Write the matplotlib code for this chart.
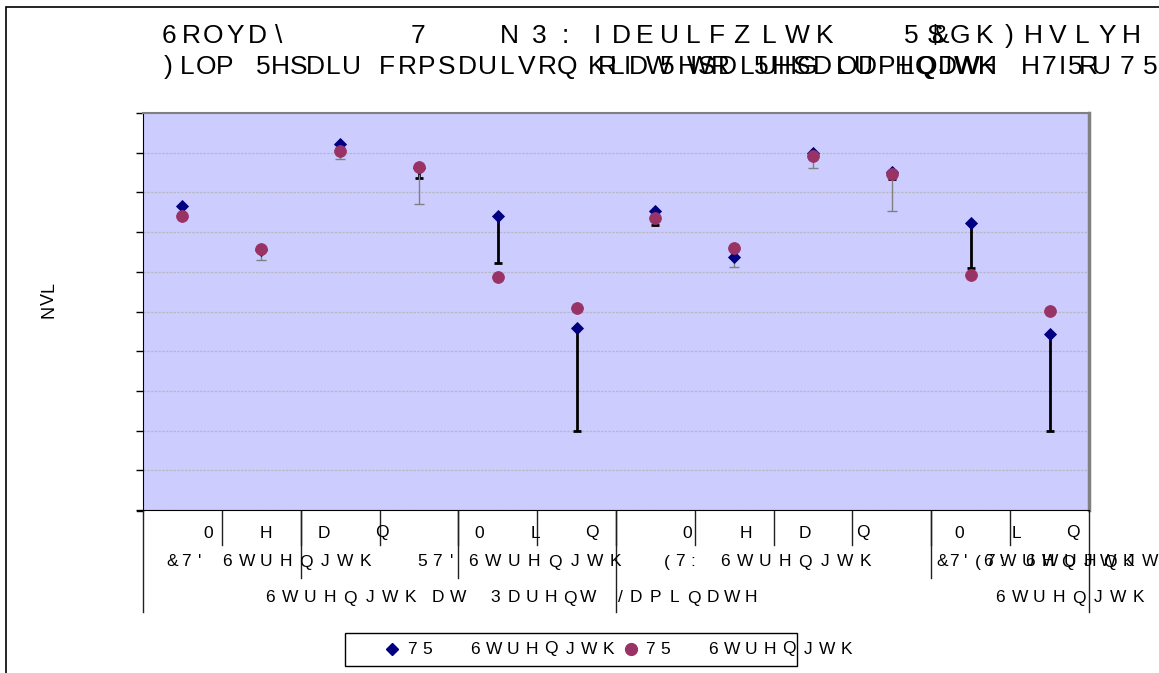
import matplotlib
matplotlib.use("Agg")
import matplotlib.pyplot as plt
from matplotlib.lines import Line2D
from matplotlib.patches import Rectangle
from matplotlib.transforms import blended_transform_factory

# 12 categories, two series (diamond / circle) with minus-only error bars
CATS = list(range(12))
S1 = [7.67, 6.55, 9.22, 8.62, 7.41, 4.58, 7.54, 6.38, 8.98, 8.52, 7.24, 4.44]
S1_LO = [0, 0, 0, 0.26, 1.18, 2.58, 0.36, 0, 0, 0.18, 1.15, 2.44]
S2 = [7.41, 6.57, 9.04, 8.64, 5.88, 5.10, 7.35, 6.60, 8.92, 8.46, 5.91, 5.02]
S2_LO = [0, 0.28, 0.21, 0.92, 0, 0, 0, 0.49, 0.31, 0.93, 0, 0]

# text exactly as it shows up in the chart (symbol-shifted glyphs)
TITLE1 = ["6ROYD\\", "7", "N", "3:", "IDEULF", "ZLWK", "5$GK)HVLYH", "&"]
TITLE2 = [")LOP", "5HSDLU", "FRPSDULVRQ RI 5HSDLUHG ODPLQDWH",
          "KLDW WR 5HSDLU HQJWK", "H", "7I5RU", "75"]
ROW1 = ["0HDQ", "0LQ", "0HDQ", "0LQ"]
ROW2 = ["&7'", "6WUHQJWK", "57'", "6WUHQJWK", "(7:", "6WUHQJWK",
        "&7'(7:", "6WUHQJWK", "6WUHQJWK"]
ROW3 = ["6WUHQJWK", "DW", "3DUHQW", "/", "DPLQDWH", "6WUHQJWK"]
YLABEL = "NVL"
LEG = ["75", "6WUHQJWK"]

W, H = 1159, 673
plt.rcParams.update({"font.family": ["Liberation Sans", "DejaVu Sans"]})
fig = plt.figure(figsize=(W / 100, H / 100), dpi=100)
ax = fig.add_axes([143 / W, 1 - 510 / H, 946 / W, 397 / H])


def px(x, y):
    return x / W, 1 - y / H


def chars(s, x0, y, pitch, size=12.5, **kw):
    for i, ch in enumerate(s):
        if ch != " ":
            fig.text(*px(x0 + i * pitch, y), ch, ha="center", va="center",
                     fontsize=size, color="black", **kw)


# outer chart border
fig.patches.append(Rectangle(px(5.5, 700), 2, 693 / H, fill=False, lw=1.2,
                             ec="black", transform=fig.transFigure))

# error bars first, then markers
i1 = [i for i in CATS if S1_LO[i] > 0]
ax.errorbar([CATS[i] for i in i1], [S1[i] for i in i1],
            yerr=[[S1_LO[i] for i in i1], [0] * len(i1)], fmt="none",
            ecolor="black", elinewidth=2, capsize=3, capthick=2, zorder=2)
i2 = [i for i in CATS if S2_LO[i] > 0]
ax.errorbar([CATS[i] for i in i2], [S2[i] for i in i2],
            yerr=[[S2_LO[i] for i in i2], [0] * len(i2)], fmt="none",
            ecolor="#808080", elinewidth=1, capsize=3.5, capthick=1, zorder=2)
ax.plot(CATS, S1, "D", color="#000080", ms=6, mew=0.6, ls="none", zorder=3)
ax.plot(CATS, S2, "o", color="#993366", ms=8.5, mew=0.6, ls="none", zorder=4)

ax.set_xlim(-0.5, 11.5)
ax.set_ylim(0, 10)
ax.set_yticks(range(11))
ax.set_yticklabels([])
ax.set_xticks([])
ax.tick_params(axis="y", direction="out", length=5, width=1, color="black")
ax.set_facecolor("#CCCCFF")
ax.grid(axis="y", color="#B8B8C4", lw=0.9, ls=(0, (2, 1)))
ax.set_axisbelow(True)
ax.spines["left"].set_color("black")
ax.spines["bottom"].set_color("black")
ax.spines["top"].set_color("#808080")
ax.spines["top"].set_linewidth(1.5)
ax.spines["right"].set_color("#808080")
ax.spines["right"].set_linewidth(2.5)
fig.lines.append(Line2D([137 / W, 143 / W], [1 - 510.5 / H] * 2, color="black",
                        lw=1, transform=fig.transFigure))

# multi-level category separators
trans = blended_transform_factory(ax.transData, fig.transFigure)


def sep(b, y1):
    fig.lines.append(Line2D([b, b], [1 - 511 / H, 1 - y1 / H], color="#202020",
                            lw=1, transform=trans, clip_on=False))


for k in range(1, 12):
    sep(k - 0.5, 545)
for b in (1.5, 3.5, 9.5):
    sep(b, 578)
for b in (-0.5, 5.5, 11.5):
    sep(b, 612)

# title
for s, x0, p in zip(TITLE1, [169, 418, 509, 539, 597, 741, 911, 940],
                    [22, 0, 0, 26, 24, 28, 24.5, 0]):
    chars(s, x0, 36, p, size=19)
for s, x0, p in zip(TITLE2, [168, 263, 387, 597, 1030, 1049, 1127],
                    [19, 17.6, 20, 20.5, 0, 13, 23]):
    chars(s, x0, 67, p, size=19)

# category labels
for s, x0, p in zip(ROW1, [208, 479, 687, 959], [58, 56.5, 58.7, 57]):
    chars(s, x0, 533, p)
for s, x0, p in zip(ROW2, [172, 227, 422, 473, 667, 725, 942, 988, 1030],
                    [14, 19.7, 15, 20.4, 13, 20, 12, 20, 20]):
    chars(s, x0, 562, p)
for s, x0, p in zip(ROW3, [270, 438, 495, 620, 636, 1000],
                    [20, 20, 18.6, 0, 19.2, 19.7]):
    chars(s, x0, 598, p)

# y label, rotated, read bottom to top
for i, ch in enumerate(YLABEL):
    fig.text(*px(49, 311 - i * 12), ch, rotation=90, ha="center", va="center",
             fontsize=13)

# legend
fig.patches.append(Rectangle(px(345, 666), 452 / W, 33 / H, fill=False,
                             lw=1, ec="black", transform=fig.transFigure))
fig.lines.append(Line2D([392 / W], [1 - 649 / H], marker="D", color="#000080",
                        ms=6, ls="none", transform=fig.transFigure))
fig.lines.append(Line2D([631 / W], [1 - 649 / H], marker="o", color="#993366",
                        ms=8.5, ls="none", transform=fig.transFigure))
chars(LEG[0], 412, 649, 15)
chars(LEG[1], 475, 649, 19)
chars(LEG[0], 650, 649, 15)
chars(LEG[1], 713, 649, 19)

fig.savefig("out.png", dpi=100, facecolor="white")
